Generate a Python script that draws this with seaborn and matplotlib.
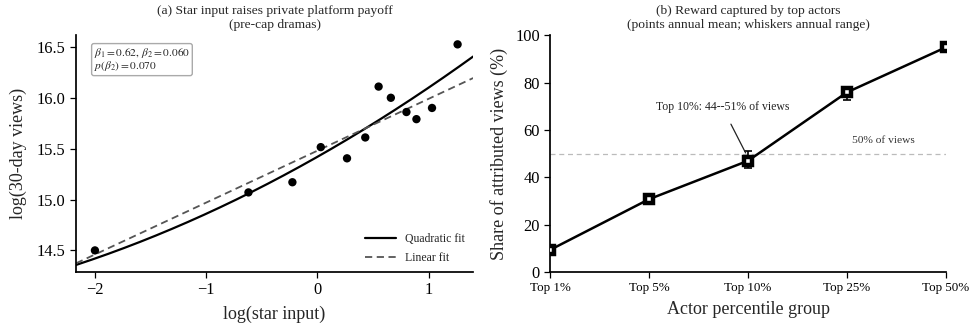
import numpy as np
import pandas as pd
import matplotlib
matplotlib.use("Agg")
import matplotlib.pyplot as plt
import seaborn as sns

# Panel (a): drama-level log star input vs log 30-day views
star_input = [-2.00, -0.62, -0.225, 0.03, 0.266, 0.43, 0.55, 0.66, 0.80, 0.89, 1.03, 1.26]
views_30d = [14.50, 15.07, 15.17, 15.515, 15.405, 15.61, 16.11, 16.00, 15.86, 15.79, 15.90, 16.525]

# Fitted coefficients
quad_b0, quad_b1, quad_b2 = 15.42, 0.62, 0.060
lin_b0, lin_b1 = 15.48, 0.51
p_beta2 = 0.070

# Panel (b): share of attributed views captured by top actor groups
groups = ["Top 1%", "Top 5%", "Top 10%", "Top 25%", "Top 50%"]
share_mean = [9.4, 30.8, 47.0, 75.9, 94.9]
share_low = [8.0, 29.0, 44.0, 72.5, 94.0]
share_high = [11.0, 33.0, 51.0, 78.0, 96.0]

sns.set_theme(style="ticks")
plt.rcParams["font.family"] = ["Liberation Serif", "DejaVu Serif"]
plt.rcParams["mathtext.fontset"] = "stix"
plt.rcParams["axes.edgecolor"] = "black"
plt.rcParams["xtick.color"] = "black"
plt.rcParams["ytick.color"] = "black"

fig = plt.figure(figsize=(9.71, 3.29), dpi=100)
ax1 = fig.add_axes([0.0783, 0.173, 0.409, 0.720])
ax2 = fig.add_axes([0.5667, 0.173, 0.4075, 0.720])

# ---- Panel (a)
xlim = (-2.17, 1.40)
xs = np.linspace(xlim[0], xlim[1], 200)
fits = pd.DataFrame({
    "x": xs,
    "quad": quad_b0 + quad_b1 * xs + quad_b2 * xs ** 2,
    "lin": lin_b0 + lin_b1 * xs,
})
sns.lineplot(data=fits, x="x", y="quad", ax=ax1, color="black", lw=1.6,
             label="Quadratic fit")
sns.lineplot(data=fits, x="x", y="lin", ax=ax1, color="#555555", lw=1.3,
             linestyle=(0, (4, 2.5)), label="Linear fit")
pts = pd.DataFrame({"x": star_input, "y": views_30d})
sns.scatterplot(data=pts, x="x", y="y", ax=ax1, color="black", s=36,
                edgecolor="none", zorder=3)
ax1.set_xlim(*xlim)
ax1.set_ylim(14.287, 16.615)
ax1.set_xticks([-2, -1, 0, 1])
ax1.set_xticklabels(["\u22122", "\u22121", "0", "1"])
ax1.set_yticks([14.5, 15.0, 15.5, 16.0, 16.5])
ax1.set_xlabel("log(star input)", fontsize=13, labelpad=5)
ax1.set_ylabel("log(30-day views)", fontsize=13, labelpad=7)
ax1.set_title("(a) Star input raises private platform payoff\n(pre-cap dramas)",
              fontsize=9.7, pad=5, linespacing=1.2)
ax1.tick_params(labelsize=11.8, length=4, width=0.9)
ax1.text(0.045, 0.955,
         "$\\beta_1 = 0.62,\\, \\beta_2 = 0.060$\n$p(\\beta_2) = 0.070$",
         transform=ax1.transAxes, fontsize=8.2, va="top", ha="left",
         linespacing=0.95,
         bbox=dict(boxstyle="round,pad=0.2", fc="white", ec="#aaaaaa", lw=1.0))
ax1.legend(loc="lower right", frameon=False, fontsize=8.5, handlelength=2.6,
           borderaxespad=0.3, labelspacing=0.55)
sns.despine(ax=ax1)

# ---- Panel (b)
xpos = np.arange(len(groups))
df_b = pd.DataFrame({"pos": xpos, "share": share_mean})
ax2.axhline(50, color="#bbbbbb", lw=0.9, linestyle=(0, (4, 3)), zorder=1)
yerr = np.array([np.array(share_mean) - np.array(share_low),
                 np.array(share_high) - np.array(share_mean)])
ax2.errorbar(xpos, share_mean, yerr=yerr, fmt="none", ecolor="black",
             elinewidth=1.2, capsize=3, capthick=1.2, zorder=2)
sns.lineplot(data=df_b, x="pos", y="share", ax=ax2, color="black", lw=1.8,
             marker="s", markersize=5.8, markerfacecolor="white",
             markeredgecolor="black", markeredgewidth=3.2, zorder=3)
ax2.set_xlim(0, 4)
ax2.set_ylim(0, 100)
ax2.set_xticks(xpos)
ax2.set_xticklabels(groups)
ax2.set_yticks([0, 20, 40, 60, 80, 100])
ax2.tick_params(axis="x", labelsize=9.4, length=4, width=0.9)
ax2.tick_params(axis="y", labelsize=11.8, length=4, width=0.9)
ax2.set_xlabel("Actor percentile group", fontsize=13, labelpad=5)
ax2.set_ylabel("Share of attributed views (%)", fontsize=13, labelpad=5)
ax2.set_title("(b) Reward captured by top actors\n(points annual mean; whiskers annual range)",
              fontsize=9.7, pad=5, linespacing=1.2)
ax2.text(3.37, 55.5, "50% of views", fontsize=8.2, ha="center", va="center",
         color="#333333")
ax2.annotate("Top 10%: 44--51% of views", xy=(1.975, 50.3), xytext=(1.74, 69.5),
             fontsize=8.5, ha="center", va="center", color="#222222",
             arrowprops=dict(arrowstyle="-", color="#222222", lw=0.9,
                             shrinkA=6, shrinkB=0))
sns.despine(ax=ax2)

fig.savefig("out.png", dpi=100)
